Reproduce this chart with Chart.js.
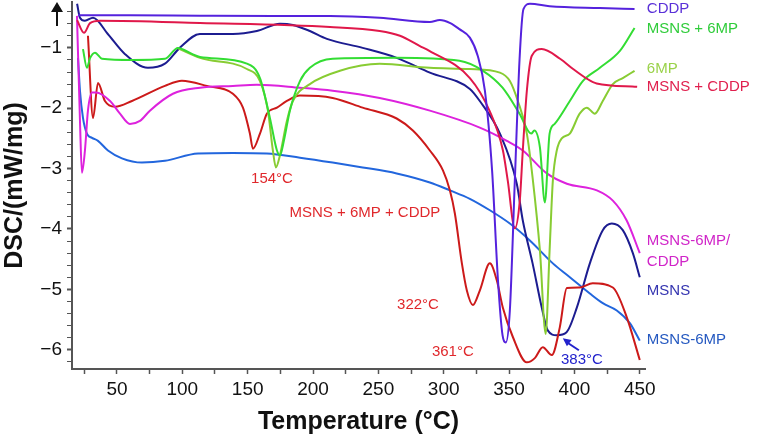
<!DOCTYPE html>
<html>
<head>
<meta charset="utf-8">
<script src="https://cdn.jsdelivr.net/npm/chart.js@4/dist/chart.umd.min.js"></script>
<style>
  body { margin: 0; background: #fff; }
  #wrap { width: 761px; height: 438px; position: relative; }
</style>
</head>
<body>
<div id="wrap"><canvas id="dsc"></canvas></div>
<script>
// temperatures (°C) and heat flow (mW/mg)
const cddpT = [20.2, 60, 113.5, 170, 213, 251, 289.4, 297, 305, 312, 320, 326, 331.5, 337, 341.5, 345, 347.5, 350.6, 354.4, 358, 361, 366, 381, 419.5, 446];
const cddpV = [-0.46, -0.46, -0.466, -0.47, -0.47, -0.50, -0.57, -0.54, -0.59, -0.69, -0.83, -1.13, -1.71, -3.03, -4.85, -5.76, -5.88, -5.35, -3.2, -1.2, -0.36, -0.27, -0.31, -0.34, -0.355];

const msnsCddpT = [19.5, 24.8, 29.4, 37, 113.5, 213, 251, 266.5, 281.8, 289, 320, 335, 345.3, 349, 354.4, 358.2, 360.5, 363.6, 367.4, 375, 389, 399, 409.5, 417, 448];
const msnsCddpV = [-0.54, -0.75, -0.59, -0.55, -0.587, -0.653, -0.72, -0.80, -0.97, -1.05, -1.50, -2.04, -2.70, -3.20, -3.99, -3.53, -2.70, -1.71, -1.13, -1.02, -1.18, -1.35, -1.51, -1.59, -1.645];

const msnsT = [19.5, 21.7, 25.5, 31.7, 43, 56, 73.7, 86.7, 98, 113.5, 138.7, 157, 174.7, 184.6, 197.6, 210.6, 238, 264, 289.4, 320, 327.6, 343, 355.9, 360.5, 368, 375, 379.6, 386.5, 394, 401.9, 411.8, 421.7, 428.6, 437, 444.7, 450];
const msnsV = [-0.27, -0.50, -0.55, -0.50, -0.77, -1.10, -1.33, -1.26, -1.0, -0.77, -0.77, -0.72, -0.60, -0.62, -0.72, -0.85, -1.0, -1.165, -1.41, -1.68, -1.88, -2.42, -3.25, -3.86, -4.57, -5.30, -5.68, -5.76, -5.71, -5.30, -4.57, -4.02, -3.91, -4.02, -4.40, -4.80];

const msns6mpT = [24, 27, 29.4, 33.2, 38.5, 61.5, 86.7, 96.7, 107.4, 113.5, 149.4, 159.4, 167, 172.4, 174.7, 177.7, 182.3, 190, 197.6, 215, 264, 312, 330, 345, 358, 367, 369.3, 373.6, 377.4, 381, 384.9, 396.5, 406.4, 419.5, 434.8, 446];
const msns6mpV = [-1.02, -1.33, -1.17, -1.08, -1.18, -1.20, -1.18, -1.0, -1.10, -1.15, -1.26, -1.50, -2.16, -2.70, -2.78, -2.54, -2.04, -1.55, -1.33, -1.18, -1.165, -1.215, -1.38, -1.66, -2.09, -2.42, -2.37, -2.65, -3.56, -2.42, -2.26, -1.88, -1.55, -1.33, -1.05, -0.67];

const sixMpT = [96, 113.5, 149.4, 159.4, 165.5, 169.3, 171.6, 174.7, 180, 184.6, 197.6, 220.6, 251, 289.4, 320, 343, 350.6, 356.7, 363.6, 368, 373.6, 378, 381, 383.5, 386.5, 390.3, 396.5, 404, 409.5, 415.6, 421.7, 429.4, 437, 446];
const sixMpV = [-1.0, -1.165, -1.35, -1.55, -2.04, -2.70, -2.98, -2.78, -2.21, -1.88, -1.60, -1.38, -1.265, -1.33, -1.35, -1.41, -1.55, -1.88, -2.42, -3.15, -4.36, -5.74, -4.36, -3.2, -2.70, -2.50, -2.42, -2.09, -1.99, -2.09, -1.88, -1.60, -1.50, -1.38];

const tripleT = [27.8, 31.7, 35.5, 40.8, 48.5, 61.5, 86.7, 99.7, 118.8, 138.7, 146.4, 151.7, 154, 159.4, 164.7, 172.4, 180, 190, 215, 238, 264, 276.4, 289.4, 299.4, 304.7, 308.5, 313.9, 317.7, 322.3, 327.6, 335.3, 340.6, 345.2, 352.9, 363.6, 369.7, 375.8, 382.7, 388.8, 394.2, 404, 414, 429.4, 440, 450];
const tripleV = [-0.80, -2.16, -1.58, -1.88, -1.975, -1.88, -1.63, -1.545, -1.63, -1.76, -1.99, -2.42, -2.67, -2.42, -2.09, -1.99, -1.88, -1.79, -1.83, -1.99, -2.17, -2.37, -2.70, -3.03, -3.36, -3.74, -4.57, -5.02, -5.26, -5.02, -4.57, -4.85, -5.30, -5.79, -6.21, -6.14, -5.96, -6.09, -5.63, -4.98, -4.97, -4.90, -4.97, -5.46, -6.17];

const loadedT = [19.4, 21.7, 23.2, 25.5, 27.8, 30.9, 34, 44.7, 52.3, 59.9, 67.6, 75.2, 92.8, 113.5, 138.7, 157, 190, 215, 251, 289.4, 327.6, 348.3, 360.5, 378.9, 394.2, 417.2, 429.4, 440, 450];
const loadedV = [-0.47, -2.21, -3.07, -2.70, -2.04, -1.74, -1.74, -1.88, -2.09, -2.26, -2.21, -2.04, -1.76, -1.66, -1.63, -1.61, -1.66, -1.71, -1.83, -2.04, -2.32, -2.54, -2.70, -3.08, -3.25, -3.36, -3.53, -3.86, -4.40];

const msnsMpT = [20.2, 21.7, 24, 27, 30.9, 35.5, 43.1, 53.8, 69.1, 86.7, 112, 138.7, 164.7, 190, 215, 238, 264, 289.4, 304.7, 320, 335.3, 350.6, 365.9, 383.5, 396.5, 411.8, 421.7, 432.4, 442.4, 450];
const msnsMpV = [-1.165, -1.71, -2.16, -2.42, -2.49, -2.54, -2.70, -2.83, -2.90, -2.87, -2.75, -2.74, -2.75, -2.82, -2.90, -2.98, -3.08, -3.23, -3.36, -3.50, -3.69, -3.91, -4.19, -4.57, -4.80, -5.07, -5.23, -5.35, -5.56, -5.85];

// axis ticks
const xTicks = [25, 50, 75, 100, 125, 150, 175, 200, 225, 250, 275, 300, 325, 350, 375, 400, 425, 450];
const yTicks = [-6.2, -6, -5.8, -5.6, -5.4, -5.2, -5, -4.8, -4.6, -4.4, -4.2, -4, -3.8, -3.6, -3.4, -3.2, -3, -2.8, -2.6, -2.4, -2.2, -2, -1.8, -1.6, -1.4, -1.2, -1, -0.8, -0.6, -0.4];

const FONT = "'Liberation Sans', Arial, sans-serif";

function pts(t, v) {
  return t.map((x, i) => ({ x: x, y: v[i] }));
}
function line(label, t, v, color) {
  return {
    label: label,
    data: pts(t, v),
    borderColor: color,
    borderWidth: 2,
    pointRadius: 0,
    fill: false,
    cubicInterpolationMode: 'monotone'
  };
}
function isMajor(v) {
  return Math.abs(v - Math.round(v)) < 1e-6;
}
// keep the plot box fixed: no extra room for half tick labels
function noPad(s) {
  s.paddingTop = 0; s.paddingBottom = 0; s.paddingLeft = 0; s.paddingRight = 0;
}

// text placed on the plot (data coordinates)
const notes = [
  { text: 'CDDP', t: 455.4, v: -0.355, color: '#5a30d8', align: 'left' },
  { text: 'MSNS + 6MP', t: 455.4, v: -0.686, color: '#2fcc3a', align: 'left' },
  { text: '6MP', t: 455.4, v: -1.347, color: '#9ad24a', align: 'left' },
  { text: 'MSNS + CDDP', t: 455.4, v: -1.645, color: '#e0204e', align: 'left' },
  { text: 'MSNS-6MP/', t: 455.4, v: -4.19, color: '#d024c8', align: 'left' },
  { text: 'CDDP', t: 455.4, v: -4.55, color: '#d024c8', align: 'left' },
  { text: 'MSNS', t: 455.4, v: -5.03, color: '#3434b0', align: 'left' },
  { text: 'MSNS-6MP', t: 455.4, v: -5.84, color: '#2458c0', align: 'left' },
  { text: '154°C', t: 168.6, v: -3.17, color: '#e0282c', align: 'center' },
  { text: 'MSNS + 6MP + CDDP', t: 239.7, v: -3.74, color: '#e0282c', align: 'center' },
  { text: '322°C', t: 280.3, v: -5.26, color: '#e0282c', align: 'center' },
  { text: '361°C', t: 307, v: -6.04, color: '#e0282c', align: 'center' },
  { text: '383°C', t: 405.7, v: -6.17, color: '#2222cc', align: 'center' }
];

const decor = {
  id: 'decor',
  afterDatasetsDraw(chart) {
    const ctx = chart.ctx, xs = chart.scales.x, ys = chart.scales.y, a = chart.chartArea;
    ctx.save();
    ctx.font = '15px ' + FONT;
    ctx.textBaseline = 'middle';
    notes.forEach(n => {
      ctx.fillStyle = n.color;
      ctx.textAlign = n.align;
      ctx.fillText(n.text, xs.getPixelForValue(n.t), ys.getPixelForValue(n.v));
    });
    // arrow to the 383 °C minimum
    const x1 = xs.getPixelForValue(403.4), y1 = ys.getPixelForValue(-6.01);
    const x2 = xs.getPixelForValue(391.1), y2 = ys.getPixelForValue(-5.81);
    ctx.strokeStyle = '#2222cc';
    ctx.fillStyle = '#2222cc';
    ctx.lineWidth = 2;
    ctx.beginPath(); ctx.moveTo(x1, y1); ctx.lineTo(x2 + 4, y2 + 4); ctx.stroke();
    const ang = Math.atan2(y2 - y1, x2 - x1);
    ctx.beginPath();
    ctx.moveTo(x2, y2);
    ctx.lineTo(x2 - 9 * Math.cos(ang - 0.45), y2 - 9 * Math.sin(ang - 0.45));
    ctx.lineTo(x2 - 9 * Math.cos(ang + 0.45), y2 - 9 * Math.sin(ang + 0.45));
    ctx.closePath(); ctx.fill();
    // endothermic arrow at the top left
    const ax = a.left - 15;
    ctx.strokeStyle = '#111';
    ctx.fillStyle = '#111';
    ctx.beginPath(); ctx.moveTo(ax, a.top + 8); ctx.lineTo(ax, a.top + 24); ctx.stroke();
    ctx.beginPath();
    ctx.moveTo(ax, a.top);
    ctx.lineTo(ax - 6, a.top + 10);
    ctx.lineTo(ax + 6, a.top + 10);
    ctx.closePath(); ctx.fill();
    ctx.restore();
  }
};

new Chart(document.getElementById('dsc'), {
  type: 'line',
  data: {
    datasets: [
      line('CDDP', cddpT, cddpV, '#5522dd'),
      line('MSNS + CDDP', msnsCddpT, msnsCddpV, '#e0184a'),
      line('MSNS + 6MP', msns6mpT, msns6mpV, '#33dd33'),
      line('6MP', sixMpT, sixMpV, '#88cc33'),
      line('MSNS-6MP/CDDP', loadedT, loadedV, '#dd22dd'),
      line('MSNS + 6MP + CDDP', tripleT, tripleV, '#cc1a1a'),
      line('MSNS', msnsT, msnsV, '#1c1c90'),
      line('MSNS-6MP', msnsMpT, msnsMpV, '#2266dd')
    ]
  },
  options: {
    responsive: true,
    maintainAspectRatio: false,
    animation: false,
    layout: { padding: { top: 2, right: 116, left: 0, bottom: 0 } },
    plugins: { legend: { display: false }, tooltip: { enabled: false } },
    scales: {
      x: {
        type: 'linear',
        min: 15.6,
        max: 454,
        afterBuildTicks: s => { s.ticks = xTicks.map(v => ({ value: v })); },
        afterFit: s => { s.height = 69; noPad(s); },
        border: { color: '#555', width: 2 },
        grid: { drawOnChartArea: false, tickLength: 5, tickColor: '#555', tickWidth: 1.5 },
        ticks: {
          padding: 4,
          color: '#111',
          font: { family: FONT, size: 19 },
          maxRotation: 0,
          autoSkip: false,
          callback: v => (v % 50 === 0 ? String(v) : '')
        },
        title: {
          display: true,
          text: 'Temperature (°C)',
          color: '#111',
          font: { family: FONT, size: 25, weight: 'bold' },
          padding: { top: 0, bottom: 1 }
        }
      },
      y: {
        min: -6.32,
        max: -0.24,
        afterBuildTicks: s => { s.ticks = yTicks.map(v => ({ value: v })); },
        afterFit: s => { s.width = 72; noPad(s); },
        border: { color: '#555', width: 2 },
        grid: {
          drawOnChartArea: false,
          tickLength: 5,
          tickColor: '#555',
          tickWidth: c => (isMajor(c.tick.value) ? 2 : 1)
        },
        ticks: {
          padding: 5,
          color: '#111',
          font: { family: FONT, size: 19 },
          autoSkip: false,
          callback: v => (isMajor(v) ? '\u2212' + Math.round(Math.abs(v)) : '')
        },
        title: {
          display: true,
          text: 'DSC/(mW/mg)',
          color: '#111',
          font: { family: FONT, size: 25, weight: 'bold' },
          padding: { top: 0, bottom: 4 }
        }
      }
    }
  },
  plugins: [decor]
});
</script>
</body>
</html>
